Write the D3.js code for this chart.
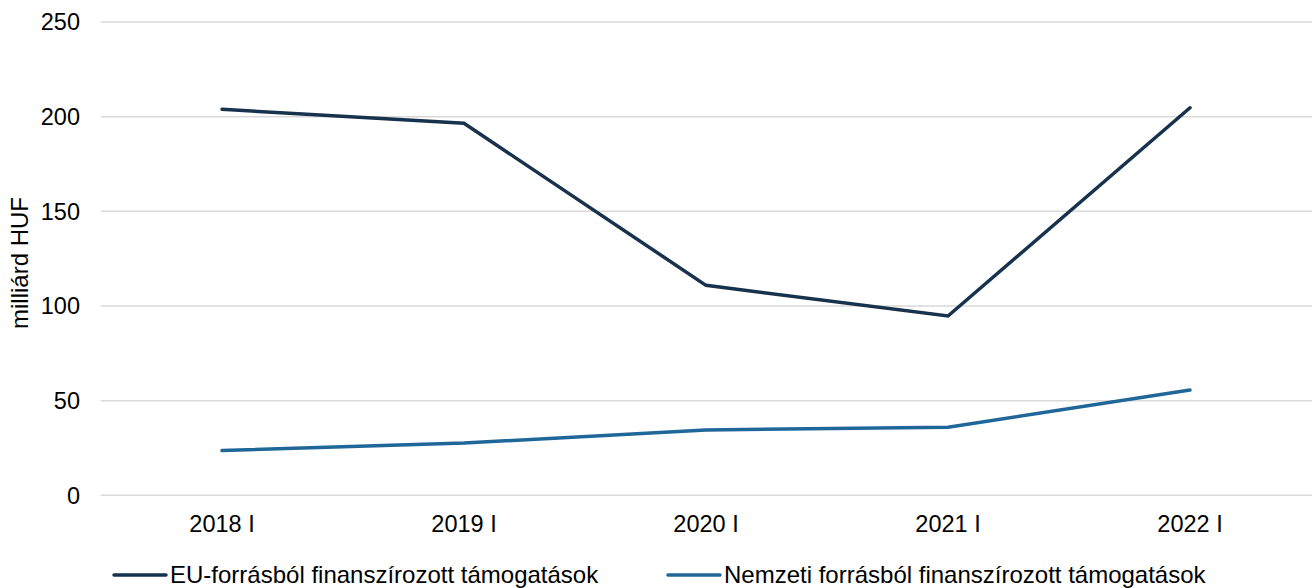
<!DOCTYPE html>
<html>
<head>
<meta charset="utf-8">
<style type="text/css">
body { margin: 0; background: #fff; }
text { font-family: "Liberation Sans", Arial, sans-serif; fill: #000; }
.grid line { stroke: #d9d9d9; stroke-width: 1.5; }
.pathline { stroke-width: 3.5; fill: none; stroke-linecap: round; stroke-linejoin: miter; }
</style>
<script src="https://d3js.org/d3.v7.min.js"></script>
</head>
<body>
<script type="text/javascript">
var categories = ["2018 I", "2019 I", "2020 I", "2021 I", "2022 I"];
var euValues = [203.9, 196.5, 110.9, 94.7, 204.7];
var nemzetiValues = [23.6, 27.6, 34.5, 36.0, 55.6];
var yTicks = [0, 50, 100, 150, 200, 250];
var seriesNames = ["EU-forrásból finanszírozott támogatások", "Nemzeti forrásból finanszírozott támogatások"];
var seriesColors = ["#17324d", "#1f6699"];

var width = 1312, height = 588;
var plotLeft = 101, plotRight = 1311, plotTop = 22, plotBottom = 495.3;

var svg = d3.select("body").append("svg").attr("width", width).attr("height", height);

var x = d3.scalePoint().domain(categories).range([plotLeft, plotRight]).padding(0.5);
var y = d3.scaleLinear().domain([0, 250]).range([plotBottom, plotTop]);

// gridlines
svg.append("g").attr("class", "grid")
	.selectAll("line").data(yTicks).enter().append("line")
	.attr("x1", plotLeft).attr("x2", width)
	.attr("y1", function(d) { return y(d); })
	.attr("y2", function(d) { return y(d); });

// y tick labels
svg.append("g").selectAll("text").data(yTicks).enter().append("text")
	.attr("x", 80).attr("y", function(d) { return y(d); })
	.attr("dy", "0.35em").attr("text-anchor", "end")
	.style("font-size", "23.5px")
	.text(function(d) { return d; });

// x tick labels
svg.append("g").selectAll("text").data(categories).enter().append("text")
	.attr("x", function(d) { return x(d); }).attr("y", 524)
	.attr("dy", "0.35em").attr("text-anchor", "middle")
	.style("font-size", "23.5px")
	.text(function(d) { return d; });

// y axis title
svg.append("text")
	.attr("transform", "translate(20,263) rotate(-90)")
	.attr("dy", "0.35em").attr("text-anchor", "middle")
	.style("font-size", "24px")
	.text("milliárd HUF");

var line = d3.line()
	.x(function(d, i) { return x(categories[i]); })
	.y(function(d) { return y(d); });

svg.append("path").datum(euValues).attr("class", "pathline")
	.attr("stroke", seriesColors[0]).attr("d", line);
svg.append("path").datum(nemzetiValues).attr("class", "pathline")
	.attr("stroke", seriesColors[1]).attr("d", line);

// legend
var legendX = [114, 668];
var lg = svg.append("g").selectAll("g").data(seriesNames).enter().append("g")
	.attr("transform", function(d, i) { return "translate(" + legendX[i] + ",575)"; });
lg.append("line").attr("x1", 0).attr("x2", 52).attr("y1", 0).attr("y2", 0)
	.attr("stroke", function(d, i) { return seriesColors[i]; })
	.attr("stroke-width", 3.5).attr("stroke-linecap", "round");
lg.append("text").attr("x", 56).attr("y", 0).attr("dy", "0.35em")
	.style("font-size", "24px")
	.text(function(d) { return d; });
</script>
</body>
</html>
